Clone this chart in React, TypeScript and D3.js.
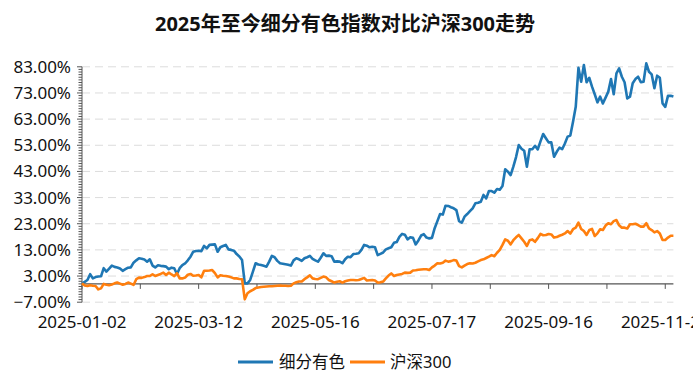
import React from "react";
import * as d3 from "d3";

const TITLE = "2025年至今细分有色指数对比沪深300走势";
const SERIES_NAMES = ["细分有色", "沪深300"];
const COLORS = ["#1f77b4", "#ff7f0e"];

// x-axis labels, every 43rd trading day
const X_LABELS = ["2025-01-02", "2025-03-12", "2025-05-16", "2025-07-17", "2025-09-16", "2025-11-24"];
const LABEL_INTERVAL = 43;

const Y_TICKS = [-7, 3, 13, 23, 33, 43, 53, 63, 73, 83];

// 细分有色 cumulative return (%)
const metals = [
  0.2, 0.8, 1.5, 3.7, 2.1, 2.6, 2.8, 2.9, 6.0, 4.7,
  5.8, 7.0, 6.5, 6.3, 5.9, 5.0, 5.6, 6.2, 6.3, 8.1,
  9.0, 9.8, 9.6, 9.3, 8.5, 9.4, 7.0, 6.3, 7.1, 6.9,
  6.8, 6.6, 5.6, 6.2, 6.0, 3.8, 6.0, 7.2, 7.8, 9.0,
  10.4, 12.3, 12.6, 12.7, 12.5, 14.5, 13.6, 14.9, 15.0, 15.1,
  12.3, 14.0, 14.5, 14.9, 13.2, 13.0, 12.7, 11.4, 10.5, 9.1,
  0.2, 0.2, 1.5, 4.7, 7.9, 7.4, 7.2, 6.9, 6.6, 8.5,
  10.7, 10.2, 8.8, 7.9, 7.7, 7.5, 7.3, 7.0, 9.0, 9.8,
  9.4, 8.8, 9.8, 10.2, 10.7, 9.6, 9.0, 8.5, 10.0, 11.7,
  10.7, 10.8, 10.6, 8.5, 8.6, 8.5, 7.9, 9.4, 10.4, 10.2,
  11.4, 11.5, 11.7, 13.0, 14.9, 14.6, 14.0, 14.2, 14.0, 11.0,
  11.5, 12.0, 13.2, 13.6, 14.0, 15.7, 16.0, 18.0, 19.1, 18.8,
  17.0, 17.8, 17.6, 15.1, 16.6, 18.5, 19.0, 17.7, 17.4, 17.6,
  21.3, 24.0, 26.7, 26.5, 29.9, 29.8, 29.3, 28.9, 28.2, 24.0,
  23.4, 25.7, 26.7, 27.8, 28.9, 30.8, 31.0, 31.4, 34.0, 32.7,
  35.5, 35.5, 34.9, 36.3, 36.0, 37.4, 43.8, 42.9, 41.6, 44.8,
  48.5, 53.1, 51.7, 50.9, 44.8, 51.5, 51.5, 52.8, 51.4, 54.5,
  57.3, 55.7, 54.1, 54.1, 48.6, 50.5, 52.1, 51.5, 53.7, 56.3,
  56.7, 62.0, 67.7, 82.6, 77.3, 83.7, 77.1, 78.8, 75.4, 72.5,
  69.4, 71.6, 69.0, 71.2, 73.5, 78.3, 72.5, 80.5, 82.4, 79.2,
  77.1, 70.9, 71.6, 76.7, 78.3, 79.2, 77.1, 77.3, 84.3, 81.1,
  80.1, 74.8, 79.6, 78.8, 69.0, 67.7, 71.9, 71.9, 71.6,
];

// 沪深300 cumulative return (%)
const csi300 = [
  0.2, -0.6, -0.8, -0.5, -0.7, -0.8, -2.1, -1.7, 0.0, -0.3,
  -0.5, -0.2, 0.2, 0.5, 0.1, -0.3, 0.0, 0.5, 0.1, -0.4,
  1.8, 2.4, 2.3, 2.6, 3.0, 3.0, 3.7, 3.0, 3.4, 3.8,
  4.3, 3.4, 4.3, 3.6, 3.0, 4.1, 2.1, 2.1, 2.4, 3.5,
  3.8, 3.1, 3.2, 3.4, 2.5, 5.0, 5.0, 5.1, 5.3, 4.1,
  2.5, 3.3, 3.1, 3.0, 2.8, 2.5, 2.1, 2.1, 1.9, 1.8,
  -5.9, -3.6, -2.8, -2.3, -1.6, -1.4, -1.2, -1.1, -1.0, -0.9,
  -0.9, -0.8, -0.7, -0.6, -0.7, -0.7, -0.8, -0.7, 0.2, 0.6,
  0.9, 0.9, 1.8, 2.5, 3.3, 2.1, 1.9, 1.8, 2.3, 2.8,
  2.5, 1.5, 1.0, 0.5, 0.8, 1.0, 0.5, 1.0, 1.3, 1.5,
  1.5, 1.4, 1.5, 1.9, 2.3, 1.3, 1.4, 1.5, 1.3, 0.5,
  0.6, 0.9, 2.1, 3.2, 4.0, 3.0, 3.4, 3.6, 3.8, 4.3,
  4.2, 4.3, 5.1, 5.2, 5.4, 5.5, 5.6, 5.6, 5.3, 6.3,
  7.0, 7.9, 7.8, 8.1, 8.9, 8.5, 8.7, 9.1, 8.9, 6.8,
  6.3, 7.0, 7.6, 7.9, 7.8, 8.1, 8.6, 9.1, 9.4, 9.9,
  10.4, 11.0, 10.6, 11.9, 13.0, 14.9, 17.0, 16.5, 15.1, 16.7,
  17.8, 18.7, 17.4, 16.1, 14.5, 16.7, 17.0, 16.1, 17.5, 19.1,
  18.6, 18.7, 19.1, 18.9, 17.7, 17.9, 18.4, 18.8, 19.3, 20.2,
  19.2, 20.9, 21.5, 23.4, 21.0, 20.2, 18.7, 20.6, 21.0, 18.3,
  19.3, 20.9, 20.6, 22.3, 23.2, 22.8, 24.0, 24.4, 22.4, 21.5,
  21.5, 21.2, 22.8, 22.8, 23.0, 22.5, 21.9, 21.9, 23.2, 21.2,
  20.6, 19.7, 20.2, 19.3, 16.8, 16.8, 17.7, 18.4, 18.4,
];

const W = 693;
const H = 390;
const FONT = "'Noto Sans', 'Noto Sans CJK SC', sans-serif";

export default function App() {
  const n = metals.length;
  const x = d3.scaleLinear().domain([0, n - 1]).range([82, 673.4]);
  const y = d3.scaleLinear().domain([-7, 83]).range([302.2, 66.8]);
  const line = d3
    .line<number>()
    .x((_, i) => x(i))
    .y((d) => y(d));

  const minorTicks = d3.range(-7, 84, 1);
  const xTickIdx = d3.range(0, n, LABEL_INTERVAL / 2);

  return (
    <svg width={W} height={H} style={{ display: "block", position: "absolute", left: 0, top: 0 }} fontFamily={FONT}>
      <rect width={W} height={H} fill="#fff" />
      <text x={345} y={31} textAnchor="middle" fontSize={20} fontWeight="bold" fill="#111">
        {TITLE}
      </text>

      {/* grid lines */}
      {Y_TICKS.map((t) => (
        <line
          key={"g" + t}
          x1={x(0)}
          x2={x(n - 1)}
          y1={y(t)}
          y2={y(t)}
          stroke="#dcdcdc"
          strokeWidth={1}
          strokeDasharray="8,5"
        />
      ))}

      {/* y axis */}
      <line x1={x(0)} x2={x(0)} y1={y(83)} y2={y(-7)} stroke="#555" strokeWidth={1} />
      {minorTicks.map((t) => (
        <line
          key={"m" + t}
          x1={x(0) - (Y_TICKS.includes(t) ? 5 : 3.5)}
          x2={x(0)}
          y1={y(t)}
          y2={y(t)}
          stroke="#555"
          strokeWidth={1}
        />
      ))}
      {Y_TICKS.map((t) => (
        <text key={"yl" + t} x={71} y={y(t)} dy="0.35em" textAnchor="end" fontSize={17} fill="#111">
          {d3.format(".2f")(t) + "%"}
        </text>
      ))}

      {/* x axis at 0 */}
      <line x1={x(0)} x2={x(n - 1)} y1={y(0)} y2={y(0)} stroke="#555" strokeWidth={1.3} />
      {xTickIdx.map((i) => (
        <line key={"xt" + i} x1={x(i)} x2={x(i)} y1={y(0)} y2={y(0) + 5} stroke="#555" strokeWidth={1} />
      ))}
      {X_LABELS.map((lab, k) => (
        <text key={lab} x={x(k * LABEL_INTERVAL)} y={328} textAnchor="middle" fontSize={17} fill="#111">
          {lab}
        </text>
      ))}

      {/* series */}
      <path d={line(metals) || ""} fill="none" stroke={COLORS[0]} strokeWidth={2.6} strokeLinejoin="round" />
      <path d={line(csi300) || ""} fill="none" stroke={COLORS[1]} strokeWidth={2.6} strokeLinejoin="round" />

      {/* legend */}
      <line x1={238} x2={273} y1={362} y2={362} stroke={COLORS[0]} strokeWidth={3} />
      <text x={279} y={362} dy="0.35em" fontSize={16.5} fill="#111">
        {SERIES_NAMES[0]}
      </text>
      <line x1={350} x2={385} y1={362} y2={362} stroke={COLORS[1]} strokeWidth={3} />
      <text x={390} y={362} dy="0.35em" fontSize={16.5} fill="#111">
        {SERIES_NAMES[1]}
      </text>
    </svg>
  );
}
